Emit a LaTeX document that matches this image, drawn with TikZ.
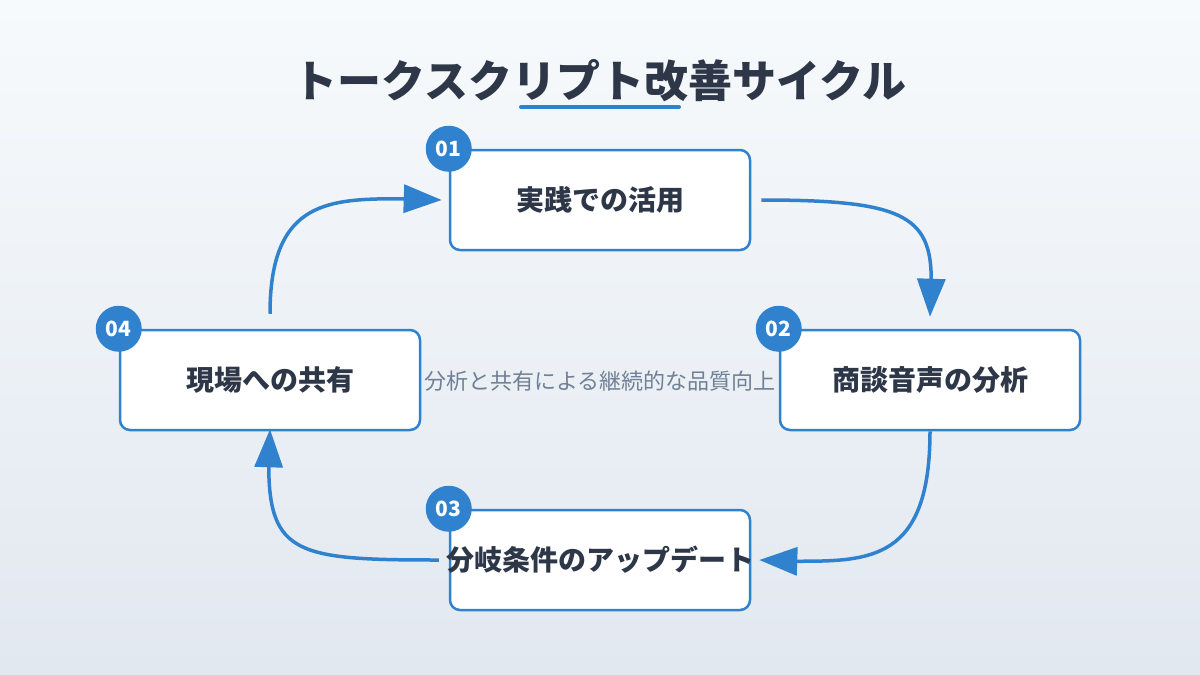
\documentclass[tikz,border=0pt]{standalone}
\usepackage{fontspec}
\setmainfont{Noto Sans CJK JP}
\usepackage{xcolor}
\usepackage{tikz}
\usetikzlibrary{arrows.meta}
\definecolor{cycleblue}{HTML}{3182CE}
\definecolor{inkdark}{HTML}{2D3748}
\definecolor{inkgray}{HTML}{718096}
\definecolor{bgtop}{HTML}{F7FAFC}
\definecolor{bgbottom}{HTML}{E2E8F0}

\begin{document}
\begin{tikzpicture}[x=1pt, y=-1pt,
    box/.style={draw=cycleblue, line width=2.5pt, rounded corners=10pt, fill=white, minimum width=300pt, minimum height=100pt, inner sep=0pt},
    lbl/.style={font=\fontsize{28}{34}\selectfont\bfseries, text=inkdark, inner sep=0pt},
    badge/.style={circle, fill=cycleblue, minimum size=46pt, inner sep=0pt, text=white, font=\fontsize{21}{24}\selectfont\bfseries},
    arr/.style={-{Triangle[length=38pt, width=28pt]}, line width=3.5pt, draw=cycleblue}]
    \fill[top color=bgtop, bottom color=bgbottom] (0,0) rectangle (1200,675);
    % title
    \node[font=\fontsize{44}{52}\selectfont\bfseries, text=inkdark] (title) at (600,81) {トークスクリプト改善サイクル};
    \draw[cycleblue, line width=4pt, line cap=round] (521,107) -- (679,107);
    % steps
    \node[box] (s1) at (600,200) {};
    \node[box] (s2) at (930,380) {};
    \node[box] (s3) at (600,560) {};
    \node[box] (s4) at (270,380) {};
    \node[lbl] (l1) at (s1) {実践での活用};
    \node[lbl] (l2) at (s2) {商談音声の分析};
    \node[lbl] (l3) at (s3) {分岐条件のアップデート};
    \node[lbl] (l4) at (s4) {現場への共有};
    \node[badge] (n1) at (s1.north west) {01};
    \node[badge] (n2) at (s2.north west) {02};
    \node[badge] (n3) at (s3.north west) {03};
    \node[badge] (n4) at (s4.north west) {04};
    \node[font=\fontsize{22}{26}\selectfont, text=inkgray] (note) at (600,381) {分析と共有による継続的な品質向上};
    % cycle
    \draw[arr] ([xshift=10pt]s1.east) .. controls +(140,0) and +(0,-65) .. +(170,80) -- ([yshift=12pt]s2.north);
    \draw[arr] (s2.south) .. controls +(0,130) and +(75,0) .. +(-135,130) -- ([xshift=8pt]s3.east);
    \draw[arr] ([xshift=-10pt]s3.west) .. controls +(-140,0) and +(0,90) .. +(-170,-95) -- ([yshift=2pt]s4.south);
    \draw[arr] ([yshift=15pt]s4.north) .. controls +(0,-115) and +(-75,0) .. +(135,-115) -- ([xshift=-7pt]s1.west);
\end{tikzpicture}
\end{document}
